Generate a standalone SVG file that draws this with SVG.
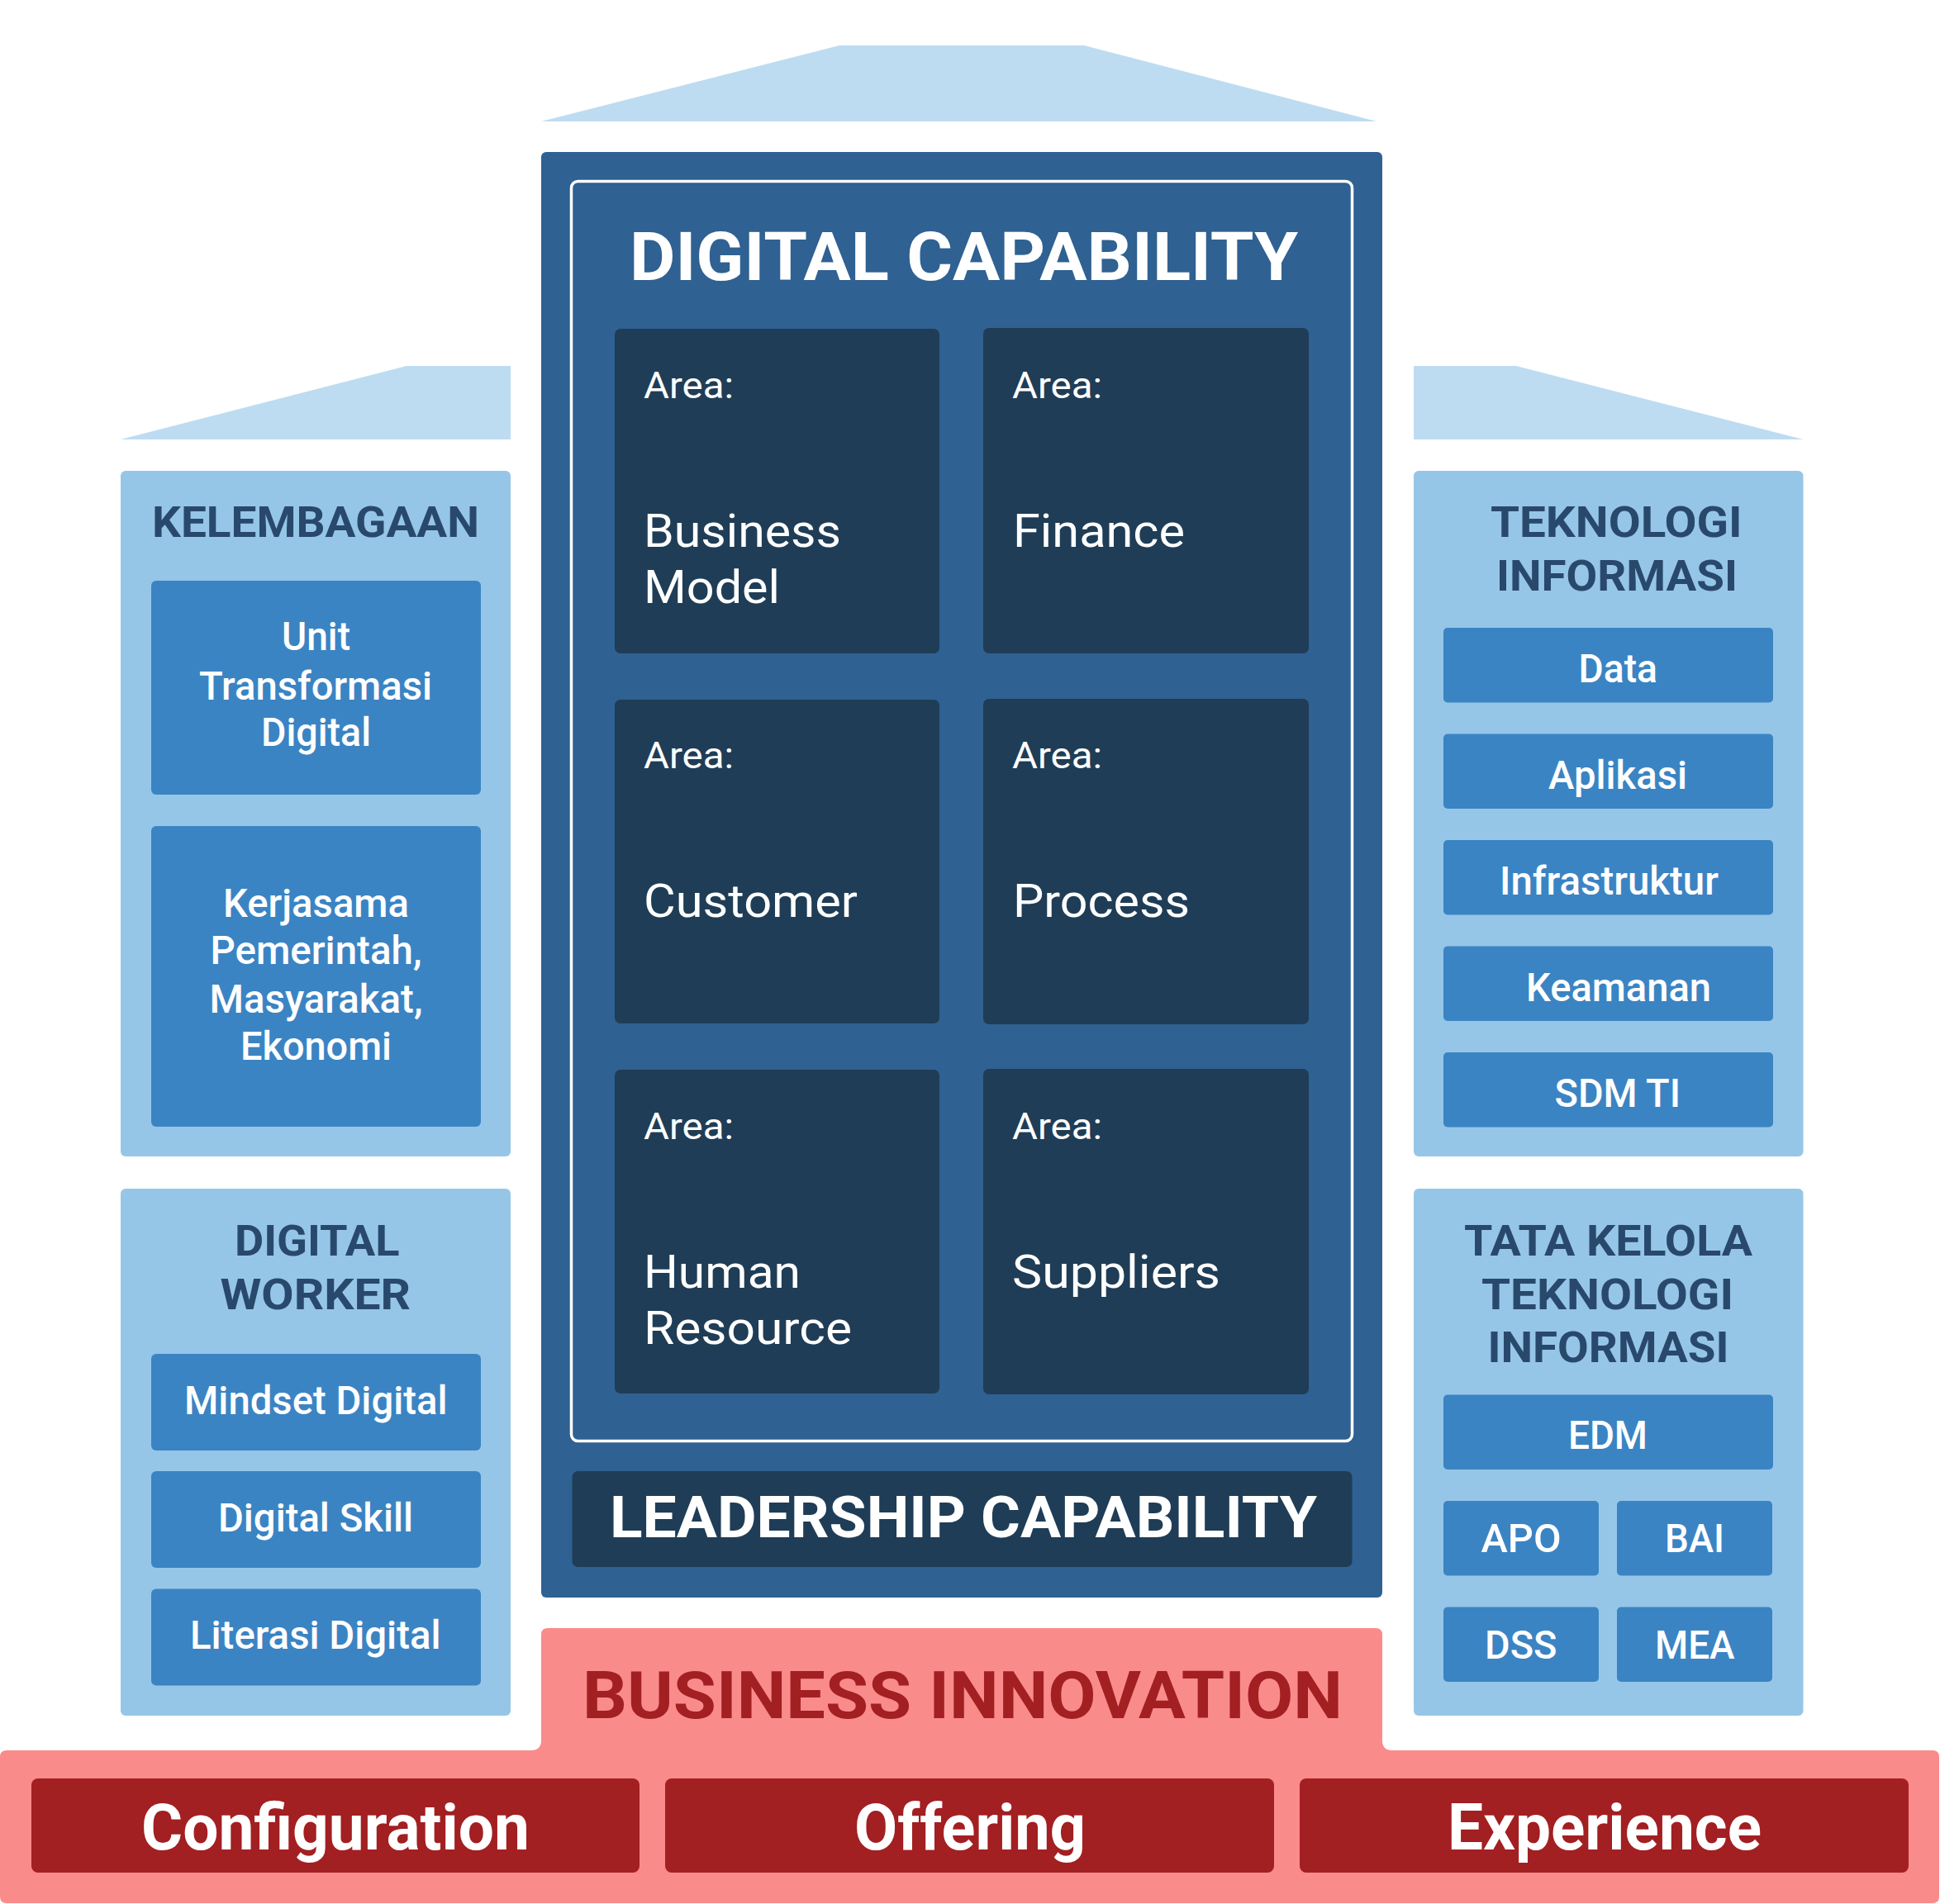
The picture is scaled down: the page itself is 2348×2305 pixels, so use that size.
<svg xmlns="http://www.w3.org/2000/svg" width="2348" height="2305" viewBox="0 0 2348 2305">
<style>
.roof{fill:#bddcf1}
.col{fill:#96c6e7}
.sub{fill:#3b84c3}
.blk{fill:#2f6192}
.dark{fill:#1f3d56}
.pink{fill:#fa8b8b}
.red{fill:#a21f22}
text{font-family:Roboto,"Liberation Sans",sans-serif}
.h{font-weight:700;fill:#29496c;font-size:52px}
.s{font-weight:500;fill:#fff;font-size:48px}
.a{font-weight:400;fill:#fff;font-size:45px}
.n{font-weight:400;fill:#fff;font-size:55px}
.t{font-weight:700;fill:#fff}
.bi{font-weight:700;fill:#a21f22;font-size:80px}
</style>
<rect width="2348" height="2305" fill="#ffffff"/>

<g id="base">
<path class="pink" d="M 8,2119 H 643 Q 655,2119 655,2107 V 1979 Q 655,1971 663,1971 H 1665 Q 1673,1971 1673,1979 V 2107 Q 1673,2119 1685,2119 H 2339 Q 2347,2119 2347,2127 V 2296 Q 2347,2304 2339,2304 H 8 Q 0,2304 0,2296 V 2127 Q 0,2119 8,2119 Z"/>
<text class="bi" x="705" y="2080" textLength="920" lengthAdjust="spacingAndGlyphs">BUSINESS INNOVATION</text>
</g>
<g id="configuration">
<rect class="red" x="38" y="2153" width="736" height="114" rx="8"/>
<text class="t" x="171" y="2239" font-size="78" textLength="470" lengthAdjust="spacingAndGlyphs">Configuration</text>
</g>
<g id="offering">
<rect class="red" x="805" y="2153" width="737" height="114" rx="8"/>
<text class="t" x="1034" y="2239" font-size="78" textLength="280" lengthAdjust="spacingAndGlyphs">Offering</text>
</g>
<g id="experience">
<rect class="red" x="1573" y="2153" width="737" height="114" rx="8"/>
<text class="t" x="1752" y="2239" font-size="78" textLength="380" lengthAdjust="spacingAndGlyphs">Experience</text>
</g>

<g id="center">
<polygon class="roof" points="655,147 1016,55 1312,55 1666,147"/>
<rect class="blk" x="655" y="184" width="1018" height="1750" rx="6"/>
<rect x="691.5" y="219.5" width="945" height="1525" rx="8" fill="none" stroke="#ffffff" stroke-width="3.5"/>
<text class="t" x="762" y="339" font-size="82" textLength="809" lengthAdjust="spacingAndGlyphs">DIGITAL CAPABILITY</text>
</g>

<g id="area-business-model">
<rect class="dark" x="744" y="398" width="393" height="393" rx="7"/>
<text class="a" x="779" y="482" textLength="109" lengthAdjust="spacingAndGlyphs">Area:</text>
<text class="n" x="779" y="662" textLength="239" lengthAdjust="spacingAndGlyphs">Business</text>
<text class="n" x="779" y="730" textLength="165" lengthAdjust="spacingAndGlyphs">Model</text>
</g>
<g id="area-finance">
<rect class="dark" x="1190" y="397" width="394" height="394" rx="7"/>
<text class="a" x="1225" y="482" textLength="109" lengthAdjust="spacingAndGlyphs">Area:</text>
<text class="n" x="1226" y="662" textLength="208" lengthAdjust="spacingAndGlyphs">Finance</text>
</g>
<g id="area-customer">
<rect class="dark" x="744" y="847" width="393" height="392" rx="7"/>
<text class="a" x="779" y="930" textLength="109" lengthAdjust="spacingAndGlyphs">Area:</text>
<text class="n" x="779" y="1110" textLength="259" lengthAdjust="spacingAndGlyphs">Customer</text>
</g>
<g id="area-process">
<rect class="dark" x="1190" y="846" width="394" height="394" rx="7"/>
<text class="a" x="1225" y="930" textLength="109" lengthAdjust="spacingAndGlyphs">Area:</text>
<text class="n" x="1226" y="1110" textLength="214" lengthAdjust="spacingAndGlyphs">Process</text>
</g>
<g id="area-human-resource">
<rect class="dark" x="744" y="1295" width="393" height="392" rx="7"/>
<text class="a" x="779" y="1379" textLength="109" lengthAdjust="spacingAndGlyphs">Area:</text>
<text class="n" x="779" y="1559" textLength="190" lengthAdjust="spacingAndGlyphs">Human</text>
<text class="n" x="779" y="1627" textLength="252" lengthAdjust="spacingAndGlyphs">Resource</text>
</g>
<g id="area-suppliers">
<rect class="dark" x="1190" y="1294" width="394" height="394" rx="7"/>
<text class="a" x="1225" y="1379" textLength="109" lengthAdjust="spacingAndGlyphs">Area:</text>
<text class="n" x="1225" y="1559" textLength="252" lengthAdjust="spacingAndGlyphs">Suppliers</text>
</g>
<g id="leadership">
<rect class="dark" x="692.5" y="1781" width="944" height="116" rx="7"/>
<text class="t" x="738" y="1861" font-size="71" textLength="856" lengthAdjust="spacingAndGlyphs">LEADERSHIP CAPABILITY</text>
</g>

<g id="kelembagaan">
<polygon class="roof" points="146,532 492,443 618,443 618,532"/>
<rect class="col" x="146" y="570" width="472" height="830" rx="6"/>
<text class="h" x="184" y="650" textLength="396" lengthAdjust="spacingAndGlyphs">KELEMBAGAAN</text>
</g>
<g id="unit-transformasi">
<rect class="sub" x="183" y="703" width="399" height="259" rx="6"/>
<text class="s" font-size="46" x="341" y="787" textLength="83" lengthAdjust="spacingAndGlyphs">Unit</text>
<text class="s" font-size="46" x="241" y="847" textLength="282" lengthAdjust="spacingAndGlyphs">Transformasi</text>
<text class="s" font-size="46" x="316" y="903" textLength="133" lengthAdjust="spacingAndGlyphs">Digital</text>
</g>
<g id="kerjasama">
<rect class="sub" x="183" y="1000" width="399" height="364" rx="6"/>
<text class="s" font-size="46" x="270" y="1110" textLength="225" lengthAdjust="spacingAndGlyphs">Kerjasama</text>
<text class="s" font-size="46" x="254.5" y="1167" textLength="256" lengthAdjust="spacingAndGlyphs">Pemerintah,</text>
<text class="s" font-size="46" x="253.5" y="1225.5" textLength="258" lengthAdjust="spacingAndGlyphs">Masyarakat,</text>
<text class="s" font-size="46" x="291" y="1283" textLength="183" lengthAdjust="spacingAndGlyphs">Ekonomi</text>
</g>

<g id="digital-worker">
<rect class="col" x="146" y="1439" width="472" height="638" rx="6"/>
<text class="h" x="284" y="1520" textLength="199.5" lengthAdjust="spacingAndGlyphs">DIGITAL</text>
<text class="h" x="266.5" y="1585" textLength="230.5" lengthAdjust="spacingAndGlyphs">WORKER</text>
</g>
<g id="mindset-digital">
<rect class="sub" x="183" y="1639" width="399" height="117" rx="6"/>
<text class="s" x="223" y="1712" textLength="318.5" lengthAdjust="spacingAndGlyphs">Mindset Digital</text>
</g>
<g id="digital-skill">
<rect class="sub" x="183" y="1781" width="399" height="117" rx="6"/>
<text class="s" x="264" y="1854" textLength="236" lengthAdjust="spacingAndGlyphs">Digital Skill</text>
</g>
<g id="literasi-digital">
<rect class="sub" x="183" y="1923.5" width="399" height="117" rx="6"/>
<text class="s" x="230" y="1996" textLength="303.5" lengthAdjust="spacingAndGlyphs">Literasi Digital</text>
</g>

<g id="teknologi-informasi">
<polygon class="roof" points="1711,443 1835,443 2182.5,532 1711,532"/>
<rect class="col" x="1711" y="570" width="471.5" height="830" rx="6"/>
<text class="h" x="1804" y="650" textLength="304.5" lengthAdjust="spacingAndGlyphs">TEKNOLOGI</text>
<text class="h" x="1811" y="715" textLength="292" lengthAdjust="spacingAndGlyphs">INFORMASI</text>
</g>
<g id="data">
<rect class="sub" x="1747" y="760" width="399" height="90.5" rx="5"/>
<text class="s" x="1910.5" y="826" textLength="95.5" lengthAdjust="spacingAndGlyphs">Data</text>
</g>
<g id="aplikasi">
<rect class="sub" x="1747" y="888.5" width="399" height="90.5" rx="5"/>
<text class="s" x="1874" y="954.5" textLength="168" lengthAdjust="spacingAndGlyphs">Aplikasi</text>
</g>
<g id="infrastruktur">
<rect class="sub" x="1747" y="1017" width="399" height="90.5" rx="5"/>
<text class="s" x="1815" y="1083" textLength="265" lengthAdjust="spacingAndGlyphs">Infrastruktur</text>
</g>
<g id="keamanan">
<rect class="sub" x="1747" y="1145.5" width="399" height="90.5" rx="5"/>
<text class="s" x="1847" y="1211.5" textLength="224" lengthAdjust="spacingAndGlyphs">Keamanan</text>
</g>
<g id="sdm-ti">
<rect class="sub" x="1747" y="1274" width="399" height="90.5" rx="5"/>
<text class="s" x="1881.5" y="1340" textLength="152.5" lengthAdjust="spacingAndGlyphs">SDM TI</text>
</g>

<g id="tata-kelola">
<rect class="col" x="1711" y="1439" width="471.5" height="638" rx="6"/>
<text class="h" x="1772" y="1520" textLength="349" lengthAdjust="spacingAndGlyphs">TATA KELOLA</text>
<text class="h" x="1793" y="1585" textLength="305" lengthAdjust="spacingAndGlyphs">TEKNOLOGI</text>
<text class="h" x="1800.5" y="1649" textLength="292" lengthAdjust="spacingAndGlyphs">INFORMASI</text>
</g>
<g id="edm">
<rect class="sub" x="1747" y="1688.5" width="399" height="90.5" rx="5"/>
<text class="s" x="1898" y="1754" textLength="96" lengthAdjust="spacingAndGlyphs">EDM</text>
</g>
<g id="apo">
<rect class="sub" x="1747" y="1817" width="188" height="90.5" rx="5"/>
<text class="s" x="1792.5" y="1879" textLength="97" lengthAdjust="spacingAndGlyphs">APO</text>
</g>
<g id="bai">
<rect class="sub" x="1957" y="1817" width="188" height="90.5" rx="5"/>
<text class="s" x="2015" y="1879" textLength="72" lengthAdjust="spacingAndGlyphs">BAI</text>
</g>
<g id="dss">
<rect class="sub" x="1747" y="1945.5" width="188" height="90.5" rx="5"/>
<text class="s" x="1797" y="2008" textLength="87.5" lengthAdjust="spacingAndGlyphs">DSS</text>
</g>
<g id="mea">
<rect class="sub" x="1957" y="1945.5" width="188" height="90.5" rx="5"/>
<text class="s" x="2003" y="2008" textLength="96.5" lengthAdjust="spacingAndGlyphs">MEA</text>
</g>

<g id="connectors"/>
</svg>
